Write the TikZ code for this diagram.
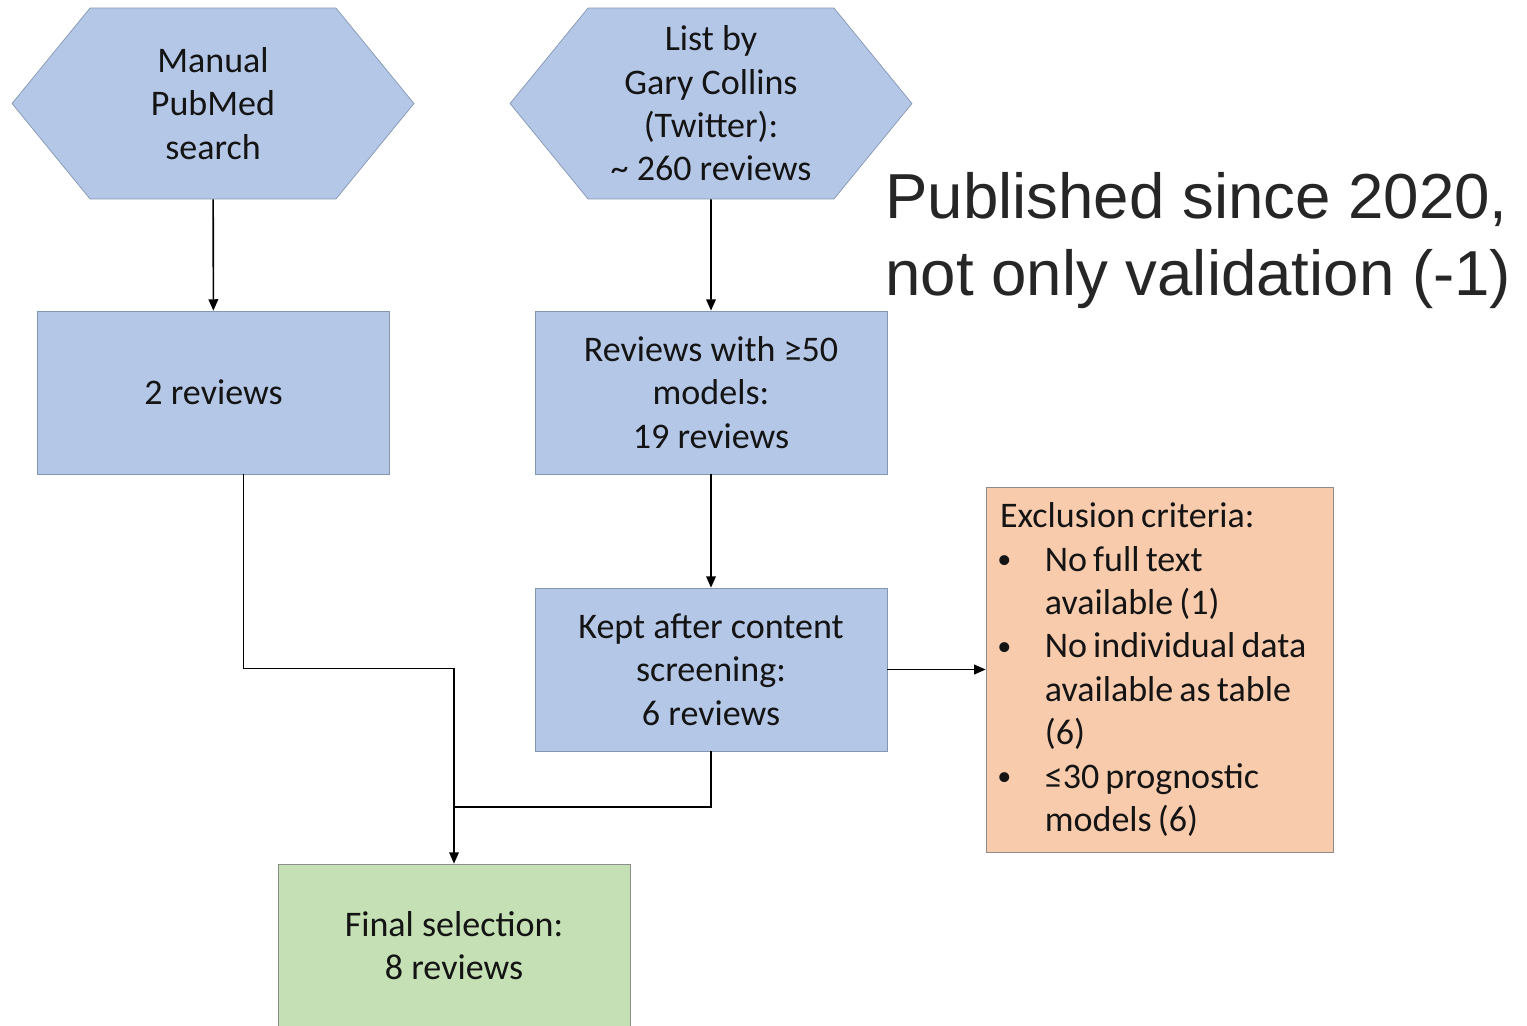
\documentclass[tikz,border=0pt]{standalone}
\usepackage{fontspec}
\setmainfont{Carlito}
\newfontfamily\arialfont{Liberation Sans}
\usetikzlibrary{shapes.symbols, arrows.meta, calc}

\definecolor{hexblue}{HTML}{B4C7E7}
\definecolor{blueline}{HTML}{8497B0}
\definecolor{exclorange}{HTML}{F8CBAD}
\definecolor{finalgreen}{HTML}{C5E0B4}
\definecolor{boxgray}{HTML}{8C8C8C}
\definecolor{bigtext}{HTML}{262626}

\newcommand{\bitem}{\makebox[25.5pt][l]{\hspace{-1.5pt}\raisebox{1.6pt}{\fontsize{16}{16}\selectfont\textbullet}}}
\newcommand{\bcont}{\hspace*{25.5pt}}
\newcommand{\tightwords}{\spaceskip=3.5pt plus 1pt\relax}

\begin{document}
\begin{tikzpicture}[
    x=0.02cm, y=-0.02cm,
    every node/.style={font=\fontsize{20.5}{24.7}\selectfont, text=black!92},
    source/.style={signal, signal to=west and east, signal pointer angle=101.5, draw=blueline, fill=hexblue, align=center, minimum width=8.04cm, minimum height=3.82cm, inner sep=0pt},
    count/.style={rectangle, draw=blueline, fill=hexblue, align=center, minimum width=7.04cm, minimum height=3.26cm},
    excl/.style={rectangle, draw=boxgray, fill=exclorange, align=left, text width=6.38cm, minimum width=6.94cm, minimum height=7.3cm, inner xsep=8pt},
    final/.style={rectangle, draw=boxgray, fill=finalgreen, align=center, minimum width=7.04cm, minimum height=3.26cm},
    arrow/.style={-{Triangle[length=6.5pt, width=5.5pt]}, line width=0.9pt}
]
\useasboundingbox (0,0) rectangle (1527,1025);

\node[source] (manual)  at (213, 103.5) {Manual\\PubMed\\search};
\node[source] (collins) at (711, 103.5) {List by\\Gary Collins\\(Twitter):\\\textasciitilde\ 260 reviews};

\node[count]  (two)     at (213.5, 392.5) {2 reviews};
\node[count]  (fifty)   at (711, 392.5) {Reviews with ≥50\\models:\\19 reviews};
\node[count]  (kept)    at (711, 669.5) {Kept after content\\screening:\\6 reviews};

\node[excl]   (crit)    at (1159.5, 669.5) {\tightwords Exclusion criteria:\\
  \bitem No full text\\
  \bcont available (1)\\
  \bitem No individual data\\
  \bcont available as table\\
  \bcont (6)\\
  \bitem ≤30 prognostic\\
  \bcont models (6)};

\node[final]  (sel)     at (454, 945.5) {Final selection:\\8 reviews};

\node[anchor=north west, inner sep=0pt, align=left, text=bigtext,
      font=\arialfont\fontsize{36.2}{43.6}\selectfont] (note) at (885, 172)
      {Published since 2020,\\not only validation (-1)};

\coordinate (join) at (455, 807);

% Edges
\draw[arrow] (manual) -- (two);
\draw[arrow] (collins) -- (fifty);
\draw[arrow] (fifty) -- (kept);
\draw[arrow] (kept) -- (crit);

\draw[arrow] ($(two.south)+(30,0)$) -- ++(0,194) -| (sel.north);
\draw[line width=0.9pt] (kept.south) |- (join);

\end{tikzpicture}
\end{document}
